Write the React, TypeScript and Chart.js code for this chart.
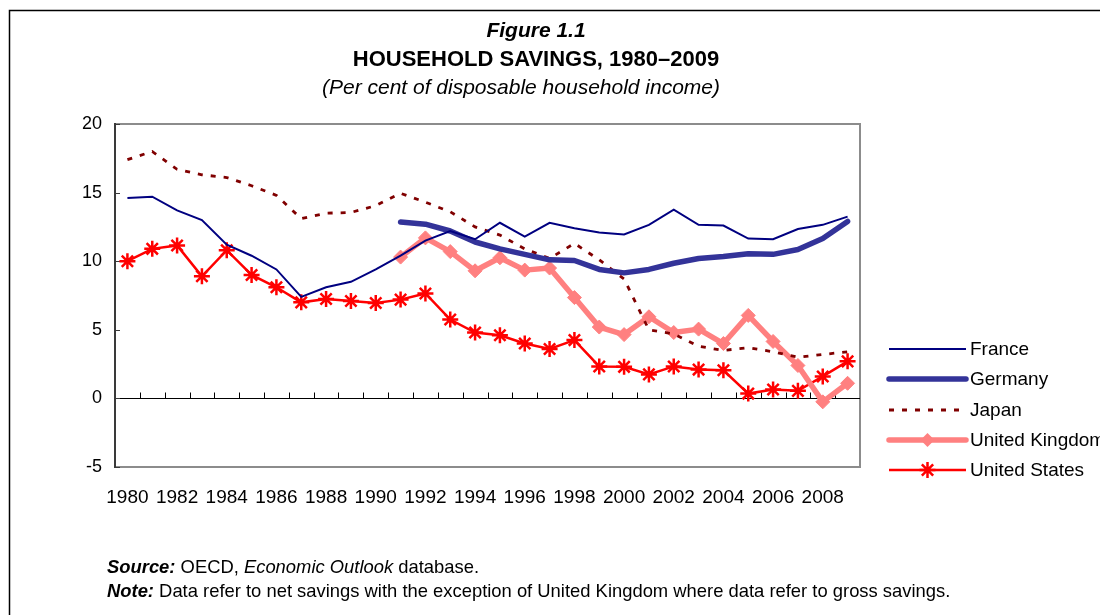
import React, { useEffect, useRef } from 'react';
import { Chart, registerables } from 'chart.js';

Chart.register(...registerables);

const years = ['1980','1981','1982','1983','1984','1985','1986','1987','1988','1989','1990','1991','1992','1993','1994','1995','1996','1997','1998','1999','2000','2001','2002','2003','2004','2005','2006','2007','2008','2009'];

const france = [14.6,14.7,13.7,13.0,11.2,10.4,9.4,7.4,8.1,8.5,9.4,10.4,11.5,12.2,11.6,12.8,11.8,12.8,12.4,12.1,11.95,12.65,13.75,12.65,12.6,11.65,11.6,12.35,12.65,13.25];
const germany = [null,null,null,null,null,null,null,null,null,null,null,12.85,12.7,12.2,11.4,10.9,10.5,10.1,10.05,9.4,9.15,9.4,9.85,10.2,10.35,10.55,10.5,10.85,11.65,12.9];
const japan = [17.4,18.0,16.7,16.3,16.1,15.5,14.8,13.1,13.5,13.55,14.05,14.95,14.3,13.6,12.5,11.9,10.9,10.2,11.3,10.1,8.7,5.0,4.7,3.8,3.5,3.7,3.4,3.0,3.2,3.4];
const uk = [null,null,null,null,null,null,null,null,null,null,null,10.3,11.7,10.7,9.3,10.25,9.35,9.5,7.35,5.2,4.65,5.95,4.8,5.05,4.0,6.05,4.15,2.4,-0.25,1.1];
const us = [10.0,10.9,11.15,8.9,10.8,9.0,8.1,7.0,7.25,7.1,6.95,7.2,7.65,5.75,4.8,4.6,4.0,3.6,4.25,2.33,2.3,1.75,2.33,2.1,2.05,0.35,0.65,0.55,1.6,2.7];

const seriesNames = ['France', 'Germany', 'Japan', 'United Kingdom', 'United States'];
const yTicks = [-5, 0, 5, 10, 15, 20];

const FONT = "'Liberation Sans', Arial, Helvetica, sans-serif";

type Seg = { t: string; f: string };

function drawSegs(ctx: CanvasRenderingContext2D, segs: Seg[], x: number, y: number) {
  let cx = x;
  ctx.textAlign = 'left';
  ctx.textBaseline = 'middle';
  for (const s of segs) {
    ctx.font = s.f;
    ctx.fillText(s.t, cx, y);
    cx += ctx.measureText(s.t).width;
  }
}

function drawMarker(ctx: CanvasRenderingContext2D, style: string, x: number, y: number, r: number, color: string, bw: number) {
  ctx.save();
  ctx.fillStyle = color;
  ctx.strokeStyle = color;
  ctx.lineWidth = bw;
  ctx.setLineDash([]);
  if (style === 'rectRot') {
    ctx.beginPath();
    ctx.moveTo(x, y - r);
    ctx.lineTo(x + r, y);
    ctx.lineTo(x, y + r);
    ctx.lineTo(x - r, y);
    ctx.closePath();
    ctx.fill();
  } else if (style === 'star') {
    ctx.beginPath();
    for (let k = 0; k < 4; k++) {
      const a = (k * Math.PI) / 4;
      ctx.moveTo(x + Math.cos(a) * r, y + Math.sin(a) * r);
      ctx.lineTo(x - Math.cos(a) * r, y - Math.sin(a) * r);
    }
    ctx.stroke();
  }
  ctx.restore();
}

const decorPlugin = {
  id: 'decor',
  beforeDatasetsDraw(chart: any) {
    const { ctx, chartArea: a, scales } = chart;
    const x = scales.x;
    const y = scales.y;
    ctx.save();
    // plot frame
    ctx.strokeStyle = '#8c8c8c';
    ctx.lineWidth = 2;
    ctx.strokeRect(a.left, a.top, a.right - a.left, a.bottom - a.top);
    ctx.strokeStyle = '#3a3a3a';
    ctx.beginPath();
    ctx.moveTo(a.left, a.top - 1);
    ctx.lineTo(a.left, a.bottom + 1);
    ctx.stroke();
    // zero line
    const y0 = Math.round(y.getPixelForValue(0)) + 0.5;
    ctx.strokeStyle = '#000';
    ctx.lineWidth = 1;
    ctx.beginPath();
    ctx.moveTo(a.left, y0);
    ctx.lineTo(a.right, y0);
    ctx.stroke();
    // x tick marks at category boundaries
    const n = chart.data.labels.length;
    const step = x.getPixelForValue(1) - x.getPixelForValue(0);
    ctx.beginPath();
    for (let i = 1; i < n; i++) {
      const px = Math.round(x.getPixelForValue(i) - step / 2) + 0.5;
      ctx.moveTo(px, y0);
      ctx.lineTo(px, y0 - 6);
    }
    ctx.stroke();
    // y tick marks (inward)
    ctx.strokeStyle = '#3a3a3a';
    ctx.beginPath();
    for (const t of y.ticks) {
      const py = Math.round(y.getPixelForValue(t.value)) + 0.5;
      ctx.moveTo(a.left, py);
      ctx.lineTo(a.left + 5, py);
    }
    ctx.stroke();
    ctx.restore();
  },
  afterDraw(chart: any) {
    const { ctx } = chart;
    ctx.save();
    // outer frame
    ctx.strokeStyle = '#000';
    ctx.lineWidth = 1.5;
    ctx.beginPath();
    ctx.moveTo(9.5, 615);
    ctx.lineTo(9.5, 10.5);
    ctx.lineTo(1100, 10.5);
    ctx.stroke();

    // titles
    ctx.fillStyle = '#000';
    ctx.textAlign = 'center';
    ctx.textBaseline = 'middle';
    const cx = 536;
    ctx.font = `italic bold 21px ${FONT}`;
    ctx.fillText('Figure 1.1', cx, 31);
    ctx.font = `bold 22px ${FONT}`;
    ctx.fillText('HOUSEHOLD SAVINGS, 1980\u20132009', cx, 60);
    ctx.font = `italic 21px ${FONT}`;
    ctx.fillText('(Per cent of disposable household income)', 521, 88);

    // footnotes
    const fs = 18.4;
    drawSegs(ctx, [
      { t: 'Source:', f: `italic bold ${fs}px ${FONT}` },
      { t: ' OECD, ', f: `${fs}px ${FONT}` },
      { t: 'Economic Outlook', f: `italic ${fs}px ${FONT}` },
      { t: ' database.', f: `${fs}px ${FONT}` },
    ], 107, 568);
    drawSegs(ctx, [
      { t: 'Note:', f: `italic bold ${fs}px ${FONT}` },
      { t: ' Data refer to net savings with the exception of United Kingdom where data refer to gross savings.', f: `${fs}px ${FONT}` },
    ], 107, 592);

    // legend
    const rows = [349, 379, 410, 440, 470];
    chart.data.datasets.forEach((ds: any, i: number) => {
      const yy = rows[i];
      ctx.save();
      ctx.strokeStyle = ds.borderColor;
      ctx.lineWidth = ds.borderWidth;
      ctx.lineCap = ds.borderWidth >= 4 ? 'round' : 'butt';
      ctx.setLineDash(ds.borderDash || []);
      ctx.beginPath();
      ctx.moveTo(889, yy);
      ctx.lineTo(966, yy);
      ctx.stroke();
      ctx.restore();
      if (ds.pointRadius > 0) {
        drawMarker(ctx, ds.pointStyle, 927.5, yy, ds.pointRadius, ds.borderColor, ds.pointBorderWidth || 2);
      }
      ctx.fillStyle = '#000';
      ctx.font = `19px ${FONT}`;
      ctx.textAlign = 'left';
      ctx.textBaseline = 'middle';
      ctx.fillText(ds.label, 970, yy + 1);
    });
    ctx.restore();
  },
};

export default function App() {
  const ref = useRef<HTMLCanvasElement | null>(null);
  useEffect(() => {
    document.body.style.margin = '0';
    const canvas = ref.current;
    if (!canvas) return;
    const chart = new Chart(canvas, {
      type: 'line',
      data: {
        labels: years,
        datasets: [
          { label: seriesNames[0], data: france, borderColor: '#000080', backgroundColor: '#000080', borderWidth: 2, pointRadius: 0, fill: false },
          { label: seriesNames[1], data: germany, borderColor: '#333399', backgroundColor: '#333399', borderWidth: 5.5, pointRadius: 0, borderJoinStyle: 'round', borderCapStyle: 'round', fill: false },
          { label: seriesNames[2], data: japan, borderColor: '#800000', backgroundColor: '#800000', borderWidth: 2.8, borderDash: [5, 8], pointRadius: 0, fill: false },
          { label: seriesNames[3], data: uk, borderColor: '#ff8080', backgroundColor: '#ff8080', borderWidth: 5.5, pointStyle: 'rectRot', pointRadius: 7, pointBorderWidth: 1, pointBackgroundColor: '#ff8080', pointBorderColor: '#ff8080', borderJoinStyle: 'round', fill: false },
          { label: seriesNames[4], data: us, borderColor: '#ff0000', backgroundColor: '#ff0000', borderWidth: 2.5, pointStyle: 'star', pointRadius: 8, pointBorderWidth: 2.5, pointBorderColor: '#ff0000', fill: false },
        ] as any,
      },
      options: {
        responsive: false,
        animation: false,
        devicePixelRatio: 1,
        layout: { padding: { left: 0, right: 240, top: 124, bottom: 100 } },
        plugins: {
          legend: { display: false },
          title: { display: false },
          tooltip: { enabled: false },
        },
        scales: {
          x: {
            type: 'category',
            offset: true,
            grid: { display: false, drawTicks: false },
            border: { display: false },
            afterFit: (s: any) => { s.height = 48; },
            ticks: {
              autoSkip: false,
              maxRotation: 0,
              minRotation: 0,
              padding: 19,
              color: '#000',
              font: { family: FONT, size: 19 },
              callback: (_v: any, i: number) => (i % 2 === 0 ? years[i] : ''),
            },
          },
          y: {
            min: yTicks[0],
            max: yTicks[yTicks.length - 1],
            afterFit: (s: any) => { s.width = 115; },
            afterBuildTicks: (s: any) => { s.ticks = yTicks.map((v) => ({ value: v })); },
            grid: { display: false, drawTicks: false },
            border: { display: false },
            ticks: {
              padding: 13,
              color: '#000',
              font: { family: FONT, size: 18 },
            },
          },
        },
      } as any,
      plugins: [decorPlugin],
    });
    return () => chart.destroy();
  }, []);
  return (
    <div style={{ position: 'absolute', left: 0, top: 0, width: 1100, height: 615, background: '#fff' }}>
      <canvas ref={ref} width={1100} height={615} style={{ display: 'block', width: 1100, height: 615 }} />
    </div>
  );
}
